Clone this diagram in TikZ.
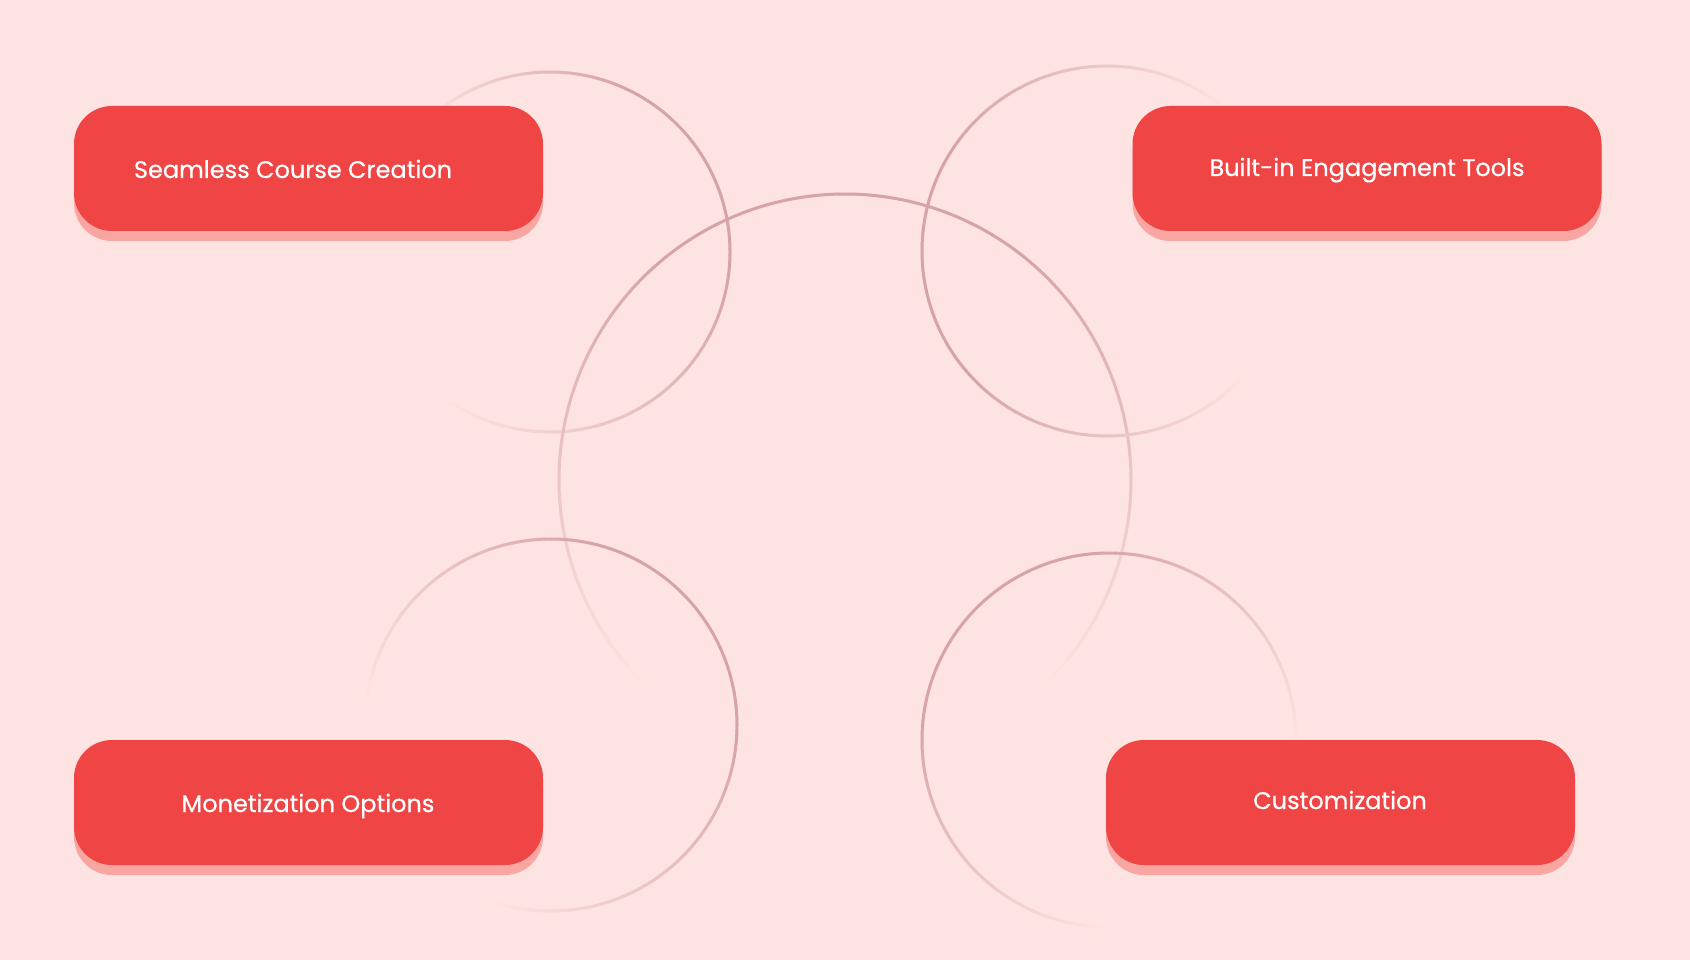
\documentclass[tikz,border=0pt]{standalone}
\usepackage{fontspec}
\setmainfont{Poppins}
\newfontfamily\popmed[FakeBold=0.5]{Poppins}
\definecolor{bgc}{HTML}{FDE3E1}
\definecolor{boxc}{HTML}{EF4545}
\definecolor{shc}{HTML}{F9A6A3}
\definecolor{arcc}{HTML}{D6A3A6}
\tikzset{
  arcline/.style={line width=3pt, line cap=round},
  pill/.style={fill=boxc, rounded corners=38pt, minimum width=469pt, minimum height=125pt, inner sep=0pt},
  pillshadow/.style={fill=shc, rounded corners=38pt, minimum width=469pt, minimum height=125pt, inner sep=0pt},
  lbl/.style={text=white, font=\popmed\fontsize{24}{28}\selectfont, inner sep=0pt, anchor=base}
}
% cx cy r start end peak
\newcommand{\fadearc}[6]{%
  \pgfmathtruncatemacro\nseg{((#5)-(#4))/2}%
  \pgfmathsetmacro\arcstep{((#5)-(#4))/\nseg}%
  \foreach \i in {1,...,\nseg}{%
    \pgfmathsetmacro\ta{(#4)+(\i-1)*\arcstep}%
    \pgfmathsetmacro\tb{(#4)+\i*\arcstep}%
    \pgfmathsetmacro\tm{0.5*(\ta)+0.5*(\tb)}%
    \pgfmathsetmacro\fa{((\tm)-(#4))/((#6)-(#4))}%
    \pgfmathsetmacro\fb{((#5)-(\tm))/((#5)-(#6))}%
    \pgfmathsetmacro\ff{min(\fa,\fb)}%
    \pgfmathsetmacro\pc{min(100,140*\ff)}%
    \draw[arcline, draw=arcc!\pc!bgc] ({#1+#3*cos(\ta)},{#2-#3*sin(\ta)}) arc[start angle={-\ta}, end angle={-\tb}, radius=#3];
  }%
}
\begin{document}
\begin{tikzpicture}[x=1pt, y=-1pt]
\useasboundingbox (0,0) rectangle (1690,960);
\fill[bgc] (0,0) rectangle (1690,960);
% circles
\fadearc{550}{252}{180}{-125}{135}{40}
\fadearc{845}{480}{286}{-45}{225}{90}
\fadearc{1107}{251}{185}{50}{318}{185}
\fadearc{551}{725}{186}{-108}{172}{40}
\fadearc{1109}{740}{187}{0}{268}{135}
% boxes
\node[pillshadow] (s1) at (308.5,178.5) {};
\node[pill] (b1) at (308.5,168.5) {};
\node[lbl] (t1) at (293,178) {Seamless Course Creation};
\node[pillshadow] (s2) at (1367,178.5) {};
\node[pill] (b2) at (1367,168.5) {};
\node[lbl] (t2) at (1367,176) {Built-in Engagement Tools};
\node[pillshadow] (s3) at (308.5,812.5) {};
\node[pill] (b3) at (308.5,802.5) {};
\node[lbl] (t3) at (308,812) {Monetization Options};
\node[pillshadow] (s4) at (1340.5,812.5) {};
\node[pill] (b4) at (1340.5,802.5) {};
\node[lbl] (t4) at (1340,809) {Customization};
\end{tikzpicture}
\end{document}
